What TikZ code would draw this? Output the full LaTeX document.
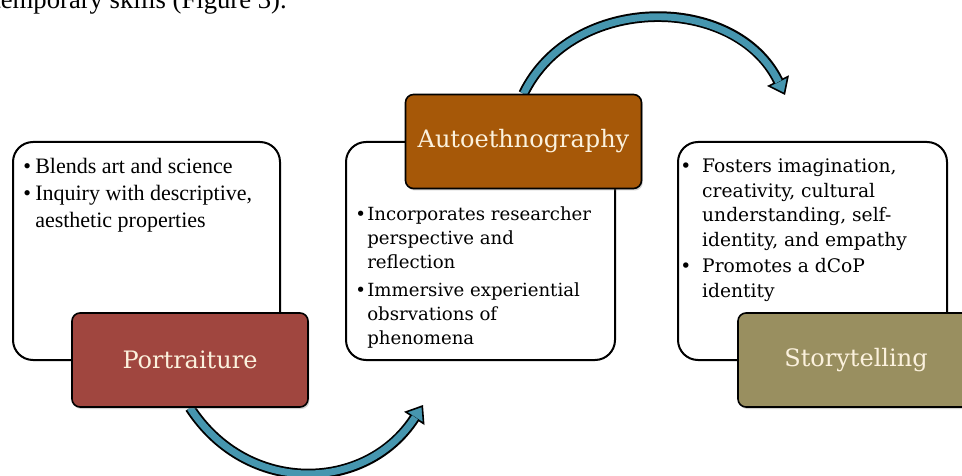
\documentclass[tikz,border=0pt]{standalone}
\usepackage{fontspec}
\setmainfont{Liberation Serif}
\newfontfamily\headfont{DejaVu Serif}
\usetikzlibrary{arrows.meta,shadows,backgrounds}

\definecolor{portred}{HTML}{A0463F}
\definecolor{autobrown}{HTML}{A65808}
\definecolor{storyolive}{HTML}{998F60}
\definecolor{arrowteal}{HTML}{4696AF}
\definecolor{titlecream}{HTML}{FBF1DD}

% bullet with a hanging indent
\newcommand{\bul}[1][9pt]{\makebox[#1][l]{\textbullet}}
\newcommand{\hang}[1][9pt]{\hspace*{#1}}

\begin{document}
\begin{tikzpicture}[x=0.75pt,y=0.75pt,
  notebox/.style={draw=black, line width=1.5pt, rounded corners=15pt, fill=white, minimum height=163.5pt},
  titlebox/.style={draw=black, line width=1.2pt, rounded corners=6pt, minimum width=177pt, minimum height=70.5pt,
    text=titlecream, font=\headfont\fontsize{18}{22}\selectfont,
    drop shadow={opacity=0.35, shadow xshift=1pt, shadow yshift=-1.5pt}},
  notetext/.style={anchor=north west, align=left, inner sep=0pt},
  flowline/.style={line width=8pt, black, -{Triangle[width=18pt,length=12pt,line width=1.2pt,fill=arrowteal]}},
  flowfill/.style={line width=5.2pt, arrowteal, shorten >=11pt}]
\useasboundingbox (0,0) rectangle (962,475);
\clip (0,0) rectangle (962,475);

% line of the page above the figure
\node[anchor=base east, inner sep=0pt, font=\fontsize{20}{24}\selectfont] (pageline) at (287,466) {contemporary skills (Figure 3).};

% boxes
\node[notebox, minimum width=200.25pt] (artbox) at (146.5,224) {};
\node[titlebox, fill=portred] (portrait) at (190,115) {Portraiture};
\node[notebox, minimum width=201.75pt] (autobox) at (480.5,224) {};
\node[titlebox, fill=autobrown] (auto) at (523.5,333.5) {Autoethnography};
\node[notebox, minimum width=201.75pt] (storybox) at (812.5,224) {};
\node[titlebox, fill=storyolive] (story) at (856,115) {Storytelling};

% texts in the boxes
\node[notetext, font=\fontsize{16.5}{20.3}\selectfont] (arttext) at (23,317.5)
  {\bul Blends art and science\\
   \bul Inquiry with descriptive,\\
   \hang aesthetic properties};
\node[notetext, font=\headfont\fontsize{13.6}{18}\selectfont] (autotext) at (355,269)
  {\bul Incorporates researcher\\
   \hang perspective and\\
   \hang reflection\\[3.5pt]
   \bul Immersive experiential\\
   \hang obsrvations of\\
   \hang phenomena};
\node[notetext, font=\headfont\fontsize{14}{18.4}\selectfont] (storytext) at (680,316.5)
  {\bul[12pt] Fosters imagination,\\
   \hang[12pt] creativity, cultural\\
   \hang[12pt] understanding, self-\\
   \hang[12pt] identity, and empathy\\[1.5pt]
   \bul[12pt] Promotes a dCoP\\
   \hang[12pt] identity};

% curved arrows
\coordinate (toauto) at (423,70);
\coordinate (tostory) at (785,380);
\begin{scope}[on background layer]
\draw[flowline] (portrait.south) to[out=-57,in=-123,looseness=1.15] (toauto);
\draw[flowfill] (portrait.south) to[out=-57,in=-123,looseness=1.15] (toauto);
\draw[flowline] (auto.north) to[out=64,in=116,looseness=1.1] (tostory);
\draw[flowfill] (auto.north) to[out=64,in=116,looseness=1.1] (tostory);
\end{scope}

\end{tikzpicture}
\end{document}
